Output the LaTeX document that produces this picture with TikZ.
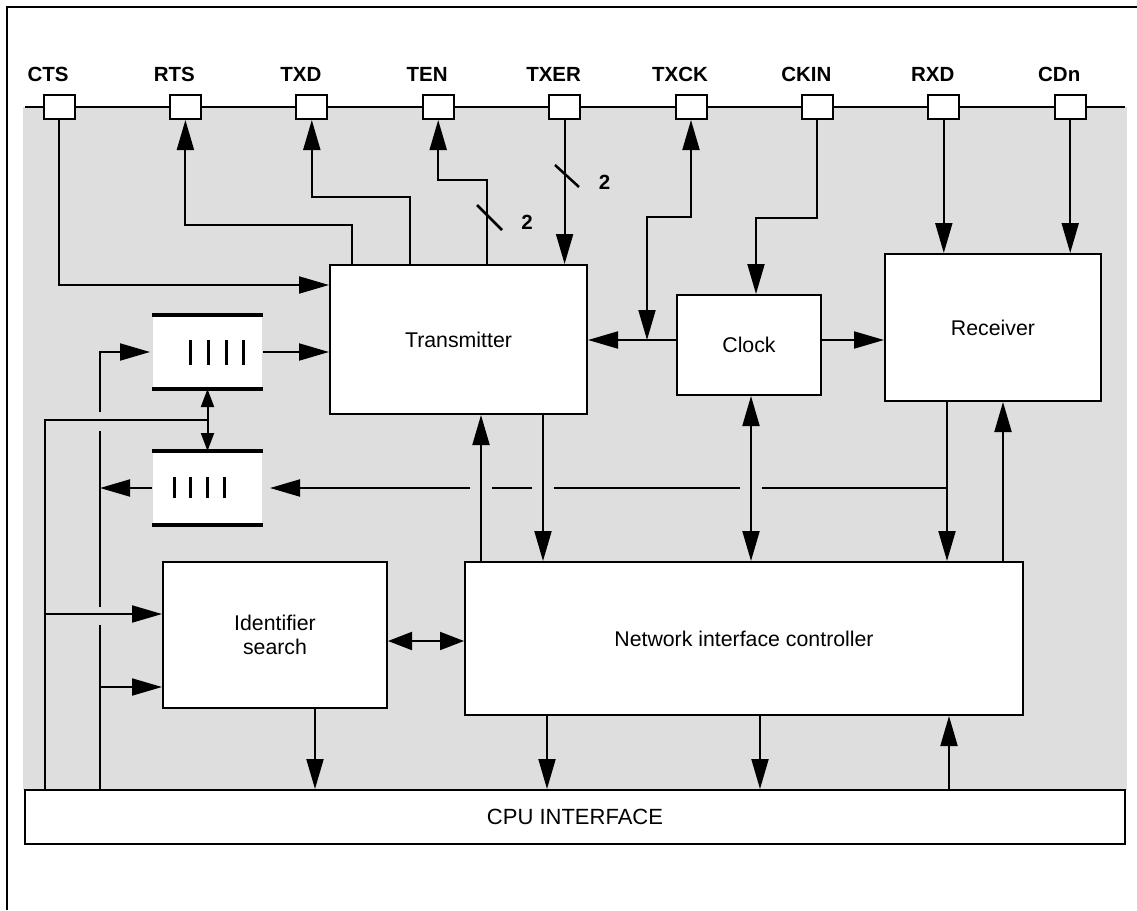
\documentclass[tikz,border=0pt]{standalone}
\usepackage{fontspec}
\setmainfont{Liberation Sans}
\usetikzlibrary{arrows.meta}
\definecolor{bggray}{RGB}{222,222,222}
\begin{document}
\begin{tikzpicture}[x=1pt,y=-1pt,
  line width=2pt,
  arr/.style={-{Triangle[length=30pt,width=17pt]}},
  arrboth/.style={{Triangle[length=30pt,width=17pt]}-{Triangle[length=30pt,width=17pt]}},
  arrmid/.style={{Triangle[length=24pt,width=18pt]}-{Triangle[length=24pt,width=18pt]}},
  arrsmall/.style={{Triangle[length=18pt,width=13pt]}-{Triangle[length=18pt,width=13pt]}},
  block/.style={draw, fill=white, line width=2pt, inner sep=0pt, align=center, font=\fontsize{21.3}{24}\selectfont},
  pinbox/.style={draw, fill=white, line width=2pt, minimum width=31pt, minimum height=24pt, inner sep=0pt},
  pinlabel/.style={anchor=base, font=\fontsize{20.5}{24}\selectfont\bfseries, inner sep=0pt},
  fifobox/.style={fill=white, minimum width=109pt, minimum height=72pt, inner sep=0pt},
  fiforail/.style={line width=3.5pt},
  fifobar/.style={line width=3pt},
  slash/.style={line width=2.5pt}
]
\useasboundingbox (0,0) rectangle (1137,910);
% background
\fill[bggray] (23,107) rectangle (1127,790);
\draw (7,910) -- (7,7) -- (1137,7);
\draw (25,107) -- (1125,107);

% pins
\foreach \n [count=\i from 0] in {CTS,RTS,TXD,TEN,TXER,TXCK,CKIN,RXD,CDn} {
  \node[pinbox] (p\i) at ({59+126.4*\i},107) {};
  \node[pinlabel] (l\i) at ({48+126.4*\i},81) {\n};
}

% blocks
\node[block, minimum width=257pt, minimum height=149pt] (tx) at (458.5,339.5) {Transmitter};
\node[block, minimum width=144pt, minimum height=100pt] (clk) at (749,345) {Clock};
\node[block, minimum width=216pt, minimum height=147pt] (rx) at (993,327.5) {Receiver};
\node[block, minimum width=558pt, minimum height=153pt] (nic) at (744,638.5) {Network interface controller};
\node[block, minimum width=224pt, minimum height=146pt] (ids) at (275,635) {Identifier\\search};
\node[block, minimum width=1100pt, minimum height=54pt, font=\fontsize{22}{26}\selectfont] (cpu) at (575,817) {CPU INTERFACE};

% FIFOs
\node[fifobox] (f1) at (207.5,352) {};
\draw[fiforail] (f1.north west) -- (f1.north east);
\draw[fiforail] (f1.south west) -- (f1.south east);
\foreach \x in {190,208,226,243} \draw[fifobar] (\x,340) -- (\x,365);
\node[fifobox] (f2) at (207.5,488) {};
\draw[fiforail] (f2.north west) -- (f2.north east);
\draw[fiforail] (f2.south west) -- (f2.south east);
\foreach \x in {174,190,207,224} \draw[fifobar] (\x,477) -- (\x,498);

% pin connections
\draw[arr] (p0.south) |- (tx.west |- 0,285);
\draw[arr] (tx.north -| 352,0) |- (p1.south |- 0,225) -- (p1.south);
\draw[arr] (tx.north -| 410,0) |- (p2.south |- 0,197) -- (p2.south);
\draw[arr] (tx.north -| 487,0) |- (p3.south |- 0,180) -- (p3.south);
\draw[slash] (477,205) -- (502,230);
\node[pinlabel] (n1) at (527,229) {2};
\draw[arr] (p4.south) -- (tx.north -| p4.south);
\draw[slash] (555,165) -- (579,187);
\node[pinlabel] (n2) at (604.5,189) {2};
\coordinate (ckj) at (647,340);
\draw[arrboth] (p5.south) |- (ckj |- 0,217) -- (ckj);
\draw[arr] (clk.west |- ckj) -- (tx.east |- ckj);
\draw[arr] (clk.east |- ckj) -- (rx.west |- ckj);
\draw[arr] (p6.south) |- (756,218) -- (clk.north -| 756,0);
\draw[arr] (p7.south) -- (rx.north -| p7.south);
\draw[arr] (p8.south) -- (rx.north -| p8.south);

% middle connections
\draw[arr] (rx.south -| 947,0) -- (nic.north -| 947,0);
\draw[arr] (nic.north -| 1003,0) -- (rx.south -| 1003,0);
\draw[arr] (tx.south -| 543,0) -- (nic.north -| 543,0);
\draw[arr] (nic.north -| 481,0) -- (tx.south -| 481,0);
\draw[arrboth] (clk.south -| 751,0) -- (nic.north -| 751,0);

% receive bus to FIFO
\draw (947,488) -- (762,488);
\draw (740,488) -- (554,488);
\draw (532,488) -- (492,488);
\draw[arr, shorten >=7pt] (470,488) -- (f2.east);

% FIFO connections
\draw[arr] (f1.east) -- (tx.west |- f1.east);
\draw[arr, shorten >=2pt] (100,412) |- (f1.west);
\draw (cpu.north -| 100,0) -- (100,625);
\draw (100,607) -- (100,431);
\draw (cpu.north -| 45,0) |- (f1.south |- 0,420);
\draw[arrsmall] (f1.south) -- (f2.north);
\draw[arr] (f2.west) -- (100,488);

% identifier search
\draw[arr] (45,614) -- (ids.west |- 0,614);
\draw[arr] (100,687) -- (ids.west |- 0,687);
\draw[arrmid] (ids.east |- 0,641) -- (nic.west |- 0,641);
\draw[arr] (ids.south -| 315,0) -- (cpu.north -| 315,0);

% NIC to CPU
\draw[arr] (nic.south -| 547,0) -- (cpu.north -| 547,0);
\draw[arr] (nic.south -| 760,0) -- (cpu.north -| 760,0);
\draw[arr] (cpu.north -| 949,0) -- (nic.south -| 949,0);
\end{tikzpicture}
\end{document}
